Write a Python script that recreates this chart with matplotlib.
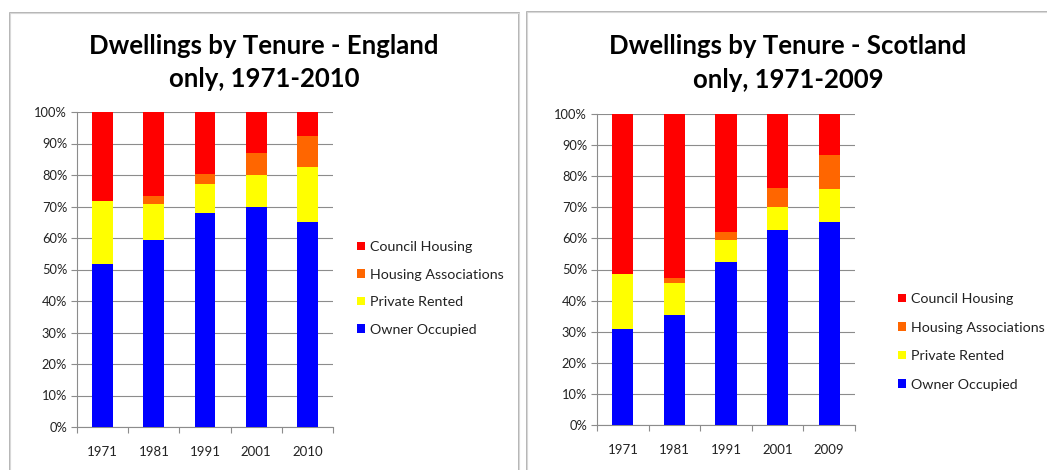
import matplotlib
matplotlib.use("Agg")
import matplotlib.pyplot as plt
from matplotlib.patches import Rectangle, Patch
from matplotlib.ticker import FuncFormatter, FixedLocator

plt.rcParams['font.family'] = ['Lato', 'DejaVu Sans']

# ---- data ----
series_names = ["Council Housing", "Housing Associations", "Private Rented", "Owner Occupied"]
colors = {"Owner Occupied": "#0000FF", "Private Rented": "#FFFF00",
          "Housing Associations": "#FF6600", "Council Housing": "#FF0000"}

eng_years = ["1971", "1981", "1991", "2001", "2010"]
eng_owner = [51.7, 59.4, 68.0, 70.0, 65.0]
eng_private = [20.1, 11.5, 9.0, 10.0, 17.5]
eng_ha = [0.0, 2.4, 3.3, 6.9, 9.8]
eng_council = [28.2, 26.7, 19.7, 13.1, 7.7]

sco_years = ["1971", "1981", "1991", "2001", "2009"]
sco_owner = [30.9, 35.5, 52.4, 62.8, 65.2]
sco_private = [17.6, 10.1, 7.1, 7.3, 10.7]
sco_ha = [0.0, 1.8, 2.7, 6.0, 11.0]
sco_council = [51.5, 52.6, 37.8, 23.9, 13.1]

W, H = 1047, 470
fig = plt.figure(figsize=(W / 100, H / 100), dpi=100)
fig.patch.set_facecolor("white")


def px_axes(left, top, right, bottom):
    return fig.add_axes([left / W, 1 - bottom / H, (right - left) / W, (bottom - top) / H])


def panel_border(left, top, right, bottom):
    for off, col in ((0, "#a8a8a8"), (2, "#d8d8d8")):
        fig.patches.append(Rectangle((left / W, 1 - bottom / H), (right - left) / W, (bottom - top) / H,
                                     transform=fig.transFigure, fill=False, edgecolor=col,
                                     linewidth=1.2 if off == 0 else 0.8, zorder=0))


panel_border(10, 13, 519, 480)
panel_border(527, 12, 1060, 480)


def draw_chart(ax, years, owner, private, ha, council):
    x = list(range(len(years)))
    bw = 0.41
    b1 = owner
    b2 = [a + b for a, b in zip(owner, private)]
    b3 = [a + b for a, b in zip(b2, ha)]
    ax.bar(x, owner, bw, color=colors["Owner Occupied"], zorder=3, linewidth=0)
    ax.bar(x, private, bw, bottom=b1, color=colors["Private Rented"], zorder=3, linewidth=0)
    ax.bar(x, ha, bw, bottom=b2, color=colors["Housing Associations"], zorder=3, linewidth=0)
    ax.bar(x, council, bw, bottom=b3, color=colors["Council Housing"], zorder=3, linewidth=0)
    ax.set_xlim(-0.5, len(years) - 0.5)
    ax.set_ylim(0, 100)
    ax.set_yticks(range(0, 101, 10))
    ax.yaxis.set_major_formatter(FuncFormatter(lambda v, p: f"{int(v)}%"))
    ax.set_xticks(x)
    ax.set_xticklabels(years)
    ax.xaxis.set_minor_locator(FixedLocator([i - 0.5 for i in range(len(years) + 1)]))
    ax.tick_params(axis="x", which="major", length=0, pad=14, labelsize=9.5, labelcolor="#222222")
    ax.tick_params(axis="x", which="minor", length=4, color="#8c8c8c", width=0.8)
    ax.tick_params(axis="y", length=4, color="#8c8c8c", width=0.8, labelsize=9.3,
                   labelcolor="#222222", pad=3)
    ax.grid(axis="y", color="#8c8c8c", linewidth=0.8, zorder=0)
    for s in ("top", "right"):
        ax.spines[s].set_visible(False)
    for s in ("left", "bottom"):
        ax.spines[s].set_color("#8c8c8c")
        ax.spines[s].set_linewidth(0.8)
    ax.set_facecolor("white")


axL = px_axes(77, 112, 333, 427)
draw_chart(axL, eng_years, eng_owner, eng_private, eng_ha, eng_council)
axR = px_axes(597, 114, 855, 425)
draw_chart(axR, sco_years, sco_owner, sco_private, sco_ha, sco_council)

tkw = dict(ha="center", va="center", fontsize=18.5, fontweight="bold", color="black")
fig.text(264 / W, 1 - 46 / H, "Dwellings by Tenure - England", **tkw)
fig.text(264 / W, 1 - 79 / H, "only, 1971-2010", **tkw)
fig.text(788 / W, 1 - 46 / H, "Dwellings by Tenure - Scotland", **tkw)
fig.text(788 / W, 1 - 80 / H, "only, 1971-2009", **tkw)

handles = [Patch(facecolor=colors[n], edgecolor="none") for n in series_names]
for (lx, ly, sp) in ((357, 241, 1.09), (898, 293, 1.16)):
    fig.legend(handles, series_names, loc="upper left",
               bbox_to_anchor=(lx / W, 1 - ly / H), bbox_transform=fig.transFigure,
               frameon=False, fontsize=10.3, handlelength=0.55, handleheight=0.55,
               handletextpad=0.35, labelspacing=sp, borderaxespad=0, borderpad=0,
               labelcolor="#222222")

fig.savefig("out.png", dpi=100, facecolor="white")
